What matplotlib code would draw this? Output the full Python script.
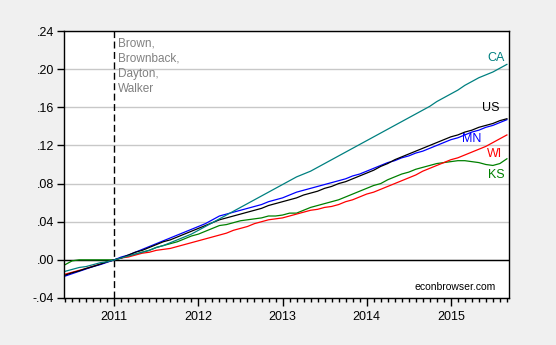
#!/usr/bin/env python3

"""Employment growth relative to 2011M01 (log), selected states vs US"""

import numpy as np
import pandas as pd
import matplotlib
matplotlib.use('Agg')
import matplotlib.pyplot as plt
from matplotlib.ticker import FixedLocator, FuncFormatter


plt.rcParams['font.family'] = ['Liberation Sans', 'DejaVu Sans']

# monthly observations, 2010M06 .. 2015M09
dates = pd.date_range('2010-06-01', '2015-09-01', freq='MS')

ca = [-0.012, -0.010, -0.008, -0.007, -0.005, -0.003, -0.002, 0.000,
      0.002, 0.004, 0.006, 0.008, 0.010, 0.013, 0.015, 0.018, 0.021, 0.024,
      0.027, 0.031, 0.035, 0.039, 0.043, 0.047, 0.051, 0.055, 0.059, 0.063,
      0.067, 0.071, 0.075, 0.079, 0.083, 0.087, 0.090, 0.093, 0.097, 0.101,
      0.105, 0.109, 0.113, 0.117, 0.121, 0.125, 0.129, 0.133, 0.137, 0.141,
      0.145, 0.149, 0.153, 0.157, 0.161, 0.166, 0.170, 0.174, 0.178, 0.183,
      0.187, 0.191, 0.194, 0.197, 0.201, 0.205]

us = [-0.016, -0.0135, -0.0115, -0.009, -0.007, -0.0045, -0.002, 0.000,
      0.002, 0.005, 0.008, 0.010, 0.013, 0.016, 0.019, 0.021, 0.024, 0.027,
      0.030, 0.033, 0.036, 0.039, 0.042, 0.044, 0.046, 0.048, 0.050, 0.052,
      0.054, 0.057, 0.059, 0.061, 0.063, 0.065, 0.068, 0.070, 0.072, 0.075,
      0.077, 0.080, 0.082, 0.085, 0.088, 0.091, 0.094, 0.098, 0.101, 0.105,
      0.108, 0.111, 0.114, 0.117, 0.120, 0.123, 0.126, 0.129, 0.131, 0.134,
      0.136, 0.139, 0.141, 0.143, 0.146, 0.148]

mn = [-0.017, -0.0145, -0.012, -0.0095, -0.007, -0.005, -0.0025, 0.000,
      0.003, 0.005, 0.008, 0.011, 0.014, 0.017, 0.020, 0.023, 0.026, 0.029,
      0.032, 0.035, 0.038, 0.042, 0.046, 0.048, 0.050, 0.052, 0.054, 0.056,
      0.058, 0.061, 0.063, 0.065, 0.068, 0.071, 0.073, 0.075, 0.077, 0.079,
      0.081, 0.083, 0.085, 0.088, 0.090, 0.093, 0.096, 0.099, 0.102, 0.104,
      0.107, 0.109, 0.112, 0.114, 0.117, 0.120, 0.123, 0.126, 0.128, 0.131,
      0.134, 0.136, 0.139, 0.141, 0.144, 0.147]

wi = [-0.015, -0.013, -0.011, -0.009, -0.0065, -0.0045, -0.002, 0.000,
      0.002, 0.003, 0.005, 0.007, 0.008, 0.010, 0.011, 0.012, 0.014, 0.016,
      0.018, 0.020, 0.022, 0.024, 0.026, 0.028, 0.031, 0.033, 0.035, 0.038,
      0.040, 0.042, 0.043, 0.044, 0.046, 0.048, 0.050, 0.052, 0.053, 0.055,
      0.056, 0.058, 0.061, 0.063, 0.066, 0.069, 0.071, 0.074, 0.077, 0.080,
      0.083, 0.086, 0.089, 0.093, 0.096, 0.099, 0.102, 0.105, 0.107, 0.110,
      0.113, 0.116, 0.119, 0.123, 0.127, 0.131]

ks = [-0.005, -0.001, 0.000, 0.000, 0.000, 0.000, 0.000, 0.000,
      0.002, 0.004, 0.006, 0.008, 0.010, 0.013, 0.015, 0.017, 0.019, 0.022,
      0.025, 0.027, 0.030, 0.033, 0.036, 0.037, 0.039, 0.041, 0.042, 0.043,
      0.044, 0.046, 0.046, 0.047, 0.049, 0.049, 0.052, 0.055, 0.057, 0.059,
      0.061, 0.063, 0.066, 0.069, 0.072, 0.075, 0.078, 0.080, 0.084, 0.087,
      0.090, 0.092, 0.095, 0.097, 0.099, 0.101, 0.102, 0.103, 0.104, 0.104,
      0.103, 0.102, 0.100, 0.099, 0.101, 0.106]

series = [('CA', ca, '#008080'),
          ('US', us, 'black'),
          ('MN', mn, '#0000ff'),
          ('WI', wi, '#ff0000'),
          ('KS', ks, '#008000')]

# label anchors (decimal year, value)
label_pos = {'CA': (2015.44, 0.212),
             'US': (2015.37, 0.159),
             'MN': (2015.13, 0.127),
             'WI': (2015.43, 0.111),
             'KS': (2015.44, 0.0885)}

y_ticks = [-0.04, 0.00, 0.04, 0.08, 0.12, 0.16, 0.20, 0.24]
year_ticks = [2011, 2012, 2013, 2014, 2015]
governors = 'Brown,\nBrownback,\nDayton,\nWalker'

t = dates.year + (dates.month - 1) / 12.0


def y_fmt(v, pos):
    s = '{:.2f}'.format(v)
    return s.replace('0.', '.', 1)


fig = plt.figure(figsize=(5.56, 3.45), dpi=100)
fig.patch.set_facecolor('#f0f0f0')
ax = fig.add_axes([64 / 556, 47 / 345, 445 / 556, 267 / 345])
ax.set_facecolor('white')

for v in y_ticks:
    ax.axhline(v, color='#c8c8c8', lw=1, zorder=0)
ax.axhline(0, color='black', lw=1, zorder=1)
ax.axvline(2011, color='black', lw=1, dashes=(5, 2.5), zorder=1)

# KS first so the others sit on top of it
for name, vals, col in series[::-1]:
    ax.plot(t, vals, color=col, lw=0.9, zorder=2)

for name, vals, col in series:
    x, y = label_pos[name]
    ax.text(x, y, name, color=col, fontsize=9, ha='left', va='center')

ax.text(2011.04, 0.233, governors, color='#808080', fontsize=8.5,
        ha='left', va='top', linespacing=1.35)
ax.text(2015.53, -0.0285, 'econbrowser.com', color='black', fontsize=7.5,
        ha='right', va='center')

ax.set_xlim(2011 - 7.17 / 12, 2011 + 56.3 / 12)
ax.set_ylim(-0.04, 0.24)

ax.yaxis.set_major_locator(FixedLocator(y_ticks))
ax.yaxis.set_major_formatter(FuncFormatter(y_fmt))
ax.xaxis.set_major_locator(FixedLocator(year_ticks))
ax.xaxis.set_minor_locator(FixedLocator(list(t)))
ax.xaxis.set_major_formatter(FuncFormatter(lambda v, p: '{:d}'.format(int(round(v)))))

ax.tick_params(axis='y', which='major', direction='out', length=5, width=1,
               labelsize=9, pad=2, right=False)
ax.tick_params(axis='x', which='major', direction='out', length=6, width=1,
               labelsize=9, pad=3, top=False)
ax.tick_params(axis='x', which='minor', direction='out', length=3, width=1,
               top=False)

for sp in ax.spines.values():
    sp.set_color('black')
    sp.set_linewidth(1)

fig.savefig('out.png', dpi=100, facecolor=fig.get_facecolor())
